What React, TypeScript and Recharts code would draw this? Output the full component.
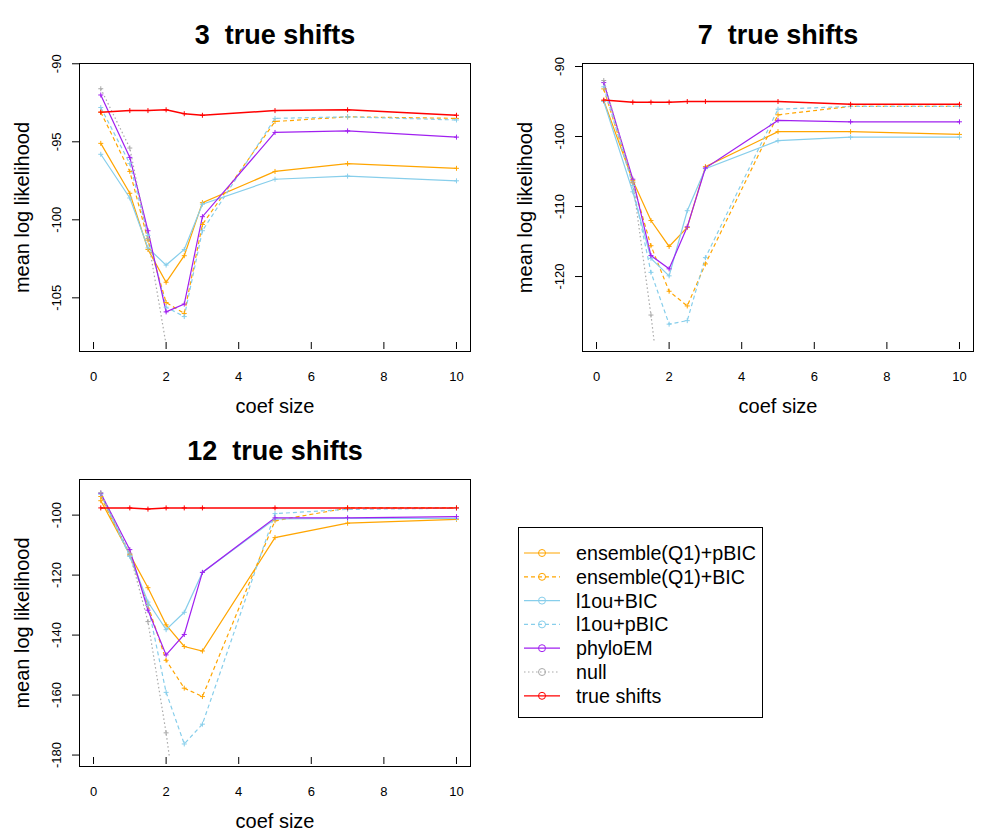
import React from 'react';
import { LineChart, Line, XAxis, YAxis } from 'recharts';

// x values shared by all three panels
const coefSize = [0.2, 1, 1.5, 2, 2.5, 3, 5, 7, 10];
const xTicks = [0, 2, 4, 6, 8, 10];

// --- 3 true shifts ---
const s3EnsPBIC = [-95.1, -98.3, -101.9, -104.0, -102.3, -98.9, -96.9, -96.4, -96.7];
const s3EnsBIC = [-93.1, -96.9, -101.3, -105.3, -106.0, -100.3, -93.7, -93.4, -93.5];
const s3L1ouBIC = [-95.8, -98.6, -101.8, -102.9, -101.9, -99.0, -97.4, -97.2, -97.5];
const s3L1ouPBIC = [-92.8, -96.4, -101.0, -105.6, -106.2, -100.7, -93.5, -93.4, -93.6];
const s3PhyloEM = [-92.0, -96.0, -100.7, -105.9, -105.4, -99.8, -94.4, -94.3, -94.7];
const s3Null = [-91.6, -95.4, -101.2, -108.0, null, null, null, null, null];
const s3True = [-93.1, -93.0, -93.0, -92.95, -93.2, -93.3, -93.0, -92.95, -93.3];

// --- 7 true shifts ---
const s7EnsPBIC = [-94.9, -106.3, -112.0, -115.7, -113.0, -104.3, -99.3, -99.3, -99.7];
const s7EnsBIC = [-93.2, -106.6, -115.6, -122.1, -124.2, -118.2, -96.9, -95.7, -95.7];
const s7L1ouBIC = [-95.0, -107.9, -117.4, -119.9, -110.6, -104.6, -100.6, -100.1, -100.1];
const s7L1ouPBIC = [-92.9, -107.0, -119.4, -126.8, -126.3, -117.3, -96.1, -95.7, -95.7];
const s7PhyloEM = [-92.3, -106.1, -117.0, -118.9, -112.9, -104.5, -97.7, -97.9, -97.9];
const s7Null = [-92.0, -106.5, -125.5, -147.0, null, null, null, null, null];
const s7True = [-94.8, -95.1, -95.1, -95.1, -95.0, -95.0, -95.0, -95.4, -95.4];

// --- 12 true shifts ---
const s12EnsPBIC = [-95.2, -113.1, -124.2, -136.6, -143.8, -145.3, -107.5, -102.7, -101.4];
const s12EnsBIC = [-93.8, -113.4, -130.1, -148.4, -157.7, -160.5, -101.9, -97.6, -97.6];
const s12L1ouBIC = [-92.9, -113.4, -129.0, -138.2, -132.4, -119.1, -101.3, -101.1, -101.1];
const s12L1ouPBIC = [-93.0, -113.8, -130.1, -159.1, -176.3, -169.7, -99.5, -98.1, -97.7];
const s12PhyloEM = [-92.7, -111.5, -131.7, -146.6, -139.8, -119.1, -100.9, -100.9, -100.5];
const s12Null = [-92.5, -112.9, -135.5, -172.6, -217.0, null, null, null, null];
const s12True = [-97.6, -97.6, -98.0, -97.6, -97.6, -97.6, -97.6, -97.6, -97.6];

const SERIES = [
  { key: 'ensP', name: 'ensemble(Q1)+pBIC', color: '#FFA500', dash: undefined, width: 1.2 },
  { key: 'ensB', name: 'ensemble(Q1)+BIC', color: '#FFA500', dash: '4 3', width: 1.2 },
  { key: 'l1B', name: 'l1ou+BIC', color: '#87CEEB', dash: undefined, width: 1.2 },
  { key: 'l1P', name: 'l1ou+pBIC', color: '#87CEEB', dash: '4 3', width: 1.2 },
  { key: 'phylo', name: 'phyloEM', color: '#A020F0', dash: undefined, width: 1.2 },
  { key: 'nul', name: 'null', color: '#A9A9A9', dash: '1.5 2.5', width: 1.2 },
  { key: 'truth', name: 'true shifts', color: '#FF0000', dash: undefined, width: 1.5 },
];

const buildRows = (cols: Record<string, (number | null)[]>) =>
  coefSize.map((x, i) => {
    const row: Record<string, number | null> = { x };
    Object.keys(cols).forEach((k) => (row[k] = cols[k][i]));
    return row;
  });

const FONT = '"Liberation Sans", Arial, sans-serif';

const plusDot = (color: string) => (props: any) => {
  const { cx, cy, index, value } = props;
  if (cx == null || cy == null || value == null) return <g key={index} />;
  return (
    <path
      key={index}
      d={`M${cx - 2.5},${cy}h5M${cx},${cy - 2.5}v5`}
      stroke={color}
      strokeWidth={1}
      strokeDasharray="none"
      fill="none"
    />
  );
};

interface PanelProps {
  title: string;
  box: { x: number; y: number; w: number; h: number };
  domain: [number, number];
  yTicks: number[];
  rows: Record<string, number | null>[];
}

const Panel: React.FC<PanelProps> = ({ title, box, domain, yTicks, rows }) => {
  const W = box.w + 70;
  const H = box.h + 50;
  const bottom = 10 + box.h;
  return (
    <>
      <div style={{ position: 'absolute', left: box.x - 60, top: box.y - 10 }}>
        <LineChart width={W} height={H} data={rows} margin={{ top: 10, right: 10, left: 20, bottom: 20 }}>
          <XAxis
            dataKey="x"
            type="number"
            domain={[-0.4, 10.4]}
            ticks={xTicks}
            interval={0}
            allowDataOverflow
            axisLine={false}
            tickLine={{ stroke: '#000' }}
            tickSize={7}
            height={30}
            tick={(p: any) => (
              <text key={p.index} x={p.x} y={bottom + 28.7} textAnchor="middle" fontSize={13} fontFamily={FONT} fill="#000">
                {p.payload.value}
              </text>
            )}
          />
          <YAxis
            type="number"
            domain={domain}
            ticks={yTicks}
            interval={0}
            allowDataOverflow
            axisLine={false}
            tickLine={{ stroke: '#000' }}
            tickSize={7}
            width={40}
            tick={(p: any) => (
              <text
                key={p.index}
                x={37.4}
                y={p.y}
                dy={4.7}
                transform={`rotate(-90, 37.4, ${p.y})`}
                textAnchor="middle"
                fontSize={13}
                fontFamily={FONT}
                fill="#000"
              >
                {p.payload.value}
              </text>
            )}
          />
          {SERIES.map((s) => (
            <Line
              key={s.key}
              dataKey={s.key}
              stroke={s.color}
              strokeWidth={s.width}
              strokeDasharray={s.dash}
              dot={plusDot(s.color)}
              activeDot={false}
              isAnimationActive={false}
              connectNulls={false}
              type="linear"
            />
          ))}
        </LineChart>
      </div>
      <div
        style={{
          position: 'absolute',
          left: box.x,
          top: box.y,
          width: box.w,
          height: box.h,
          border: '1px solid #000',
          boxSizing: 'border-box',
          pointerEvents: 'none',
        }}
      />
      <svg
        width={1006}
        height={831}
        style={{ position: 'absolute', left: 0, top: 0, pointerEvents: 'none' }}
        fontFamily={FONT}
      >
        <text
          x={box.x + box.w / 2}
          y={box.y - 19}
          textAnchor="middle"
          fontSize={27}
          fontWeight="bold"
          style={{ whiteSpace: 'pre' }}
        >
          {title}
        </text>
        <text x={box.x + box.w / 2} y={box.y + box.h + 61} textAnchor="middle" fontSize={20}>
          coef size
        </text>
        <text
          x={box.x - 57}
          y={box.y + box.h / 2}
          dy={7}
          transform={`rotate(-90, ${box.x - 57}, ${box.y + box.h / 2})`}
          textAnchor="middle"
          fontSize={20}
        >
          mean log likelihood
        </text>
      </svg>
    </>
  );
};

const Legend: React.FC = () => (
  <svg width={1006} height={831} style={{ position: 'absolute', left: 0, top: 0 }} fontFamily={FONT}>
    <rect x={518.5} y={527.5} width={244} height={190} fill="none" stroke="#000" strokeWidth={1} />
    {SERIES.map((s, i) => {
      const cy = 553 + i * 23.8;
      return (
        <g key={s.key}>
          <line x1={524} x2={560} y1={cy} y2={cy} stroke={s.color} strokeWidth={1.2} strokeDasharray={s.dash} />
          <circle cx={542} cy={cy} r={3.5} fill="none" stroke={s.color} strokeWidth={1} />
          <text x={576} y={cy + 7} fontSize={19.7} fill="#000">
            {s.name}
          </text>
        </g>
      );
    })}
  </svg>
);

export default function App() {
  const rows3 = buildRows({
    ensP: s3EnsPBIC, ensB: s3EnsBIC, l1B: s3L1ouBIC, l1P: s3L1ouPBIC, phylo: s3PhyloEM, nul: s3Null, truth: s3True,
  });
  const rows7 = buildRows({
    ensP: s7EnsPBIC, ensB: s7EnsBIC, l1B: s7L1ouBIC, l1P: s7L1ouPBIC, phylo: s7PhyloEM, nul: s7Null, truth: s7True,
  });
  const rows12 = buildRows({
    ensP: s12EnsPBIC, ensB: s12EnsBIC, l1B: s12L1ouBIC, l1P: s12L1ouPBIC, phylo: s12PhyloEM, nul: s12Null, truth: s12True,
  });

  return (
    <div style={{ position: 'absolute', left: 0, top: 0, width: 1006, height: 831, background: '#fff', fontFamily: FONT }}>
      <Panel title="3  true shifts" box={{ x: 79, y: 63, w: 392, h: 289 }} domain={[-107.83, -89.95]} yTicks={[-105, -100, -95, -90]} rows={rows3} />
      <Panel title="7  true shifts" box={{ x: 582, y: 63, w: 392, h: 289 }} domain={[-129.35, -89.5]} yTicks={[-120, -110, -100, -90]} rows={rows7} />
      <Panel title="12  true shifts" box={{ x: 79, y: 479, w: 392, h: 288 }} domain={[-180.65, -87.96]} yTicks={[-180, -160, -140, -120, -100]} rows={rows12} />
      <Legend />
    </div>
  );
}
